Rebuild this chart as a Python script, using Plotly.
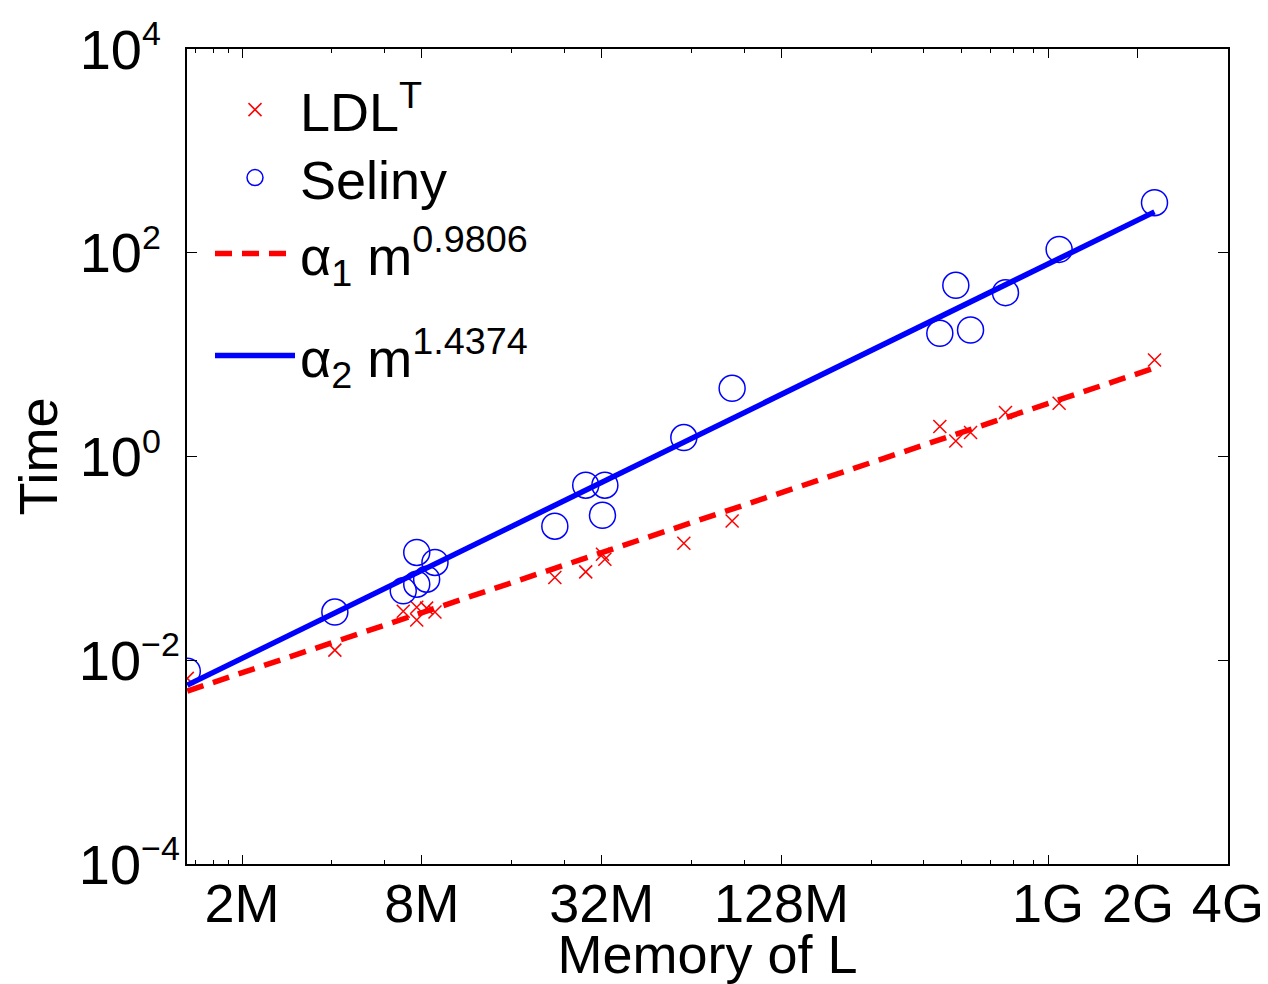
import plotly.graph_objects as go

# ---- data ----
mem = [1.311e6, 4.09e6, 6.93e6, 7.69e6, 7.69e6, 8.30e6, 8.85e6,
       2.23e7, 2.83e7, 3.22e7, 3.28e7, 6.03e7, 8.75e7,
       4.34e8, 4.91e8, 5.50e8, 7.20e8, 1.089e9, 2.272e9]
time_ldl = [0.00664, 0.01258, 0.0303, 0.0248, 0.0332, 0.0325, 0.0297,
            0.065, 0.0737, 0.110, 0.0982, 0.141, 0.233,
            1.967, 1.421, 1.718, 2.70, 3.33, 8.86]
time_seliny = [0.00782, 0.0297, 0.0480, 0.0558, 0.1143, 0.0625, 0.0912,
               0.207, 0.523, 0.265, 0.523, 1.535, 4.67,
               16.19, 47.9, 17.44, 40.6, 107.9, 310.0]

fit_x = [1.311e6, 2.272e9]
fit1_y = [0.00498, 7.4]      # alpha_1 m^0.9806
fit2_y = [0.00570, 252.0]    # alpha_2 m^1.4374

x_tickvals = [2e6, 8e6, 3.2e7, 1.28e8, 1e9, 2e9, 4e9]
x_ticktext = ["2M", "8M", "32M", "128M", "1G", "2G", "4G"]
x_minor = [1.4e6, 1.6e6, 1.8e6, 4e6, 6e6, 1.6e7, 2.4e7, 6.4e7, 9.6e7,
           2.56e8, 3.84e8, 5.12e8, 6.4e8, 7.68e8, 8.96e8]
y_tickvals = [1e-4, 1e-2, 1, 1e2, 1e4]
y_exponents = ["\u22124", "\u22122", "0\u2007", "2\u2007", "4\u2007"]
y_ticktext = ["10<sup><span style='font-size:34px'>%s</span></sup>" % e
              for e in y_exponents]

FONT = "Liberation Sans, Arial, Helvetica, sans-serif"
FS = 54

fig = go.Figure()
fig.add_trace(go.Scatter(x=mem, y=time_ldl, mode="markers", name="LDL<sup>T</sup>",
                         marker=dict(symbol="x-thin-open", size=13, color="red",
                                     line=dict(color="red", width=1.5)),
                         legend="legend", showlegend=True))
fig.add_trace(go.Scatter(x=mem, y=time_seliny, mode="markers", name="Seliny",
                         marker=dict(symbol="circle-open", size=26, color="blue",
                                     line=dict(color="blue", width=1.5)),
                         legend="legend2", showlegend=True))
fig.add_trace(go.Scatter(x=fit_x, y=fit1_y, mode="lines",
                         name="\u03b1<sub>1</sub> m<sup>0.9806</sup>",
                         line=dict(color="red", width=5.5, dash="17px,10px"),
                         legend="legend3", showlegend=True))
fig.add_trace(go.Scatter(x=fit_x, y=fit2_y, mode="lines",
                         name="\u03b1<sub>2</sub> m<sup>1.4374</sup>",
                         line=dict(color="blue", width=5.5),
                         legend="legend4", showlegend=True))

# page body has an 8px margin: figure is drawn from (8, 8)
OFF = 8
W, H = 1268 - OFF, 984 - OFF
L, R, T, B = 187 - OFF, 40, 49 - OFF, 120
pw, ph = W - L - R, H - T - B


def lx(px):
    return (px - OFF - L) / pw


def ly(py):
    return 1 - (py - OFF - T) / ph


leg_common = dict(font=dict(family=FONT, size=FS, color="black"),
                  bgcolor="rgba(0,0,0,0)", borderwidth=0, itemwidth=80,
                  xanchor="left", yanchor="middle", itemsizing="trace",
                  visible=True)

fig.update_layout(
    width=W, height=H, showlegend=True,
    margin=dict(l=L, r=R, t=T, b=B, autoexpand=False),
    paper_bgcolor="white", plot_bgcolor="white",
    font=dict(family=FONT, size=FS, color="black"),
    legend=dict(x=lx(210), y=ly(110), **leg_common),
    legend2=dict(x=lx(210), y=ly(178), **leg_common),
    legend3=dict(x=lx(210), y=ly(254), **leg_common),
    legend4=dict(x=lx(210), y=ly(356), **leg_common),
    xaxis=dict(type="log", range=[6.1166, 9.6025],
               tickmode="array", tickvals=x_tickvals, ticktext=x_ticktext,
               ticks="inside", ticklen=9, tickwidth=1, tickcolor="black",
               minor=dict(tickmode="array", tickvals=x_minor, ticks="inside",
                          ticklen=4, tickwidth=1, tickcolor="black"),
               showline=True, linecolor="black", linewidth=2, mirror="ticks",
               showgrid=False, zeroline=False,
               tickfont=dict(family=FONT, size=FS), ticklabelstandoff=-9,
               title=dict(text="Memory of L", font=dict(family=FONT, size=FS),
                          standoff=6)),
    yaxis=dict(type="log", range=[-4, 4],
               tickmode="array", tickvals=y_tickvals, ticktext=y_ticktext,
               ticks="inside", ticklen=10, tickwidth=1, tickcolor="black",
               showline=True, linecolor="black", linewidth=2, mirror="ticks",
               showgrid=False, zeroline=False,
               tickfont=dict(family=FONT, size=56), ticklabelstandoff=-6,
               title=dict(text="Time", font=dict(family=FONT, size=FS),
                          standoff=10)),
)

fig.write_html("out.html")
